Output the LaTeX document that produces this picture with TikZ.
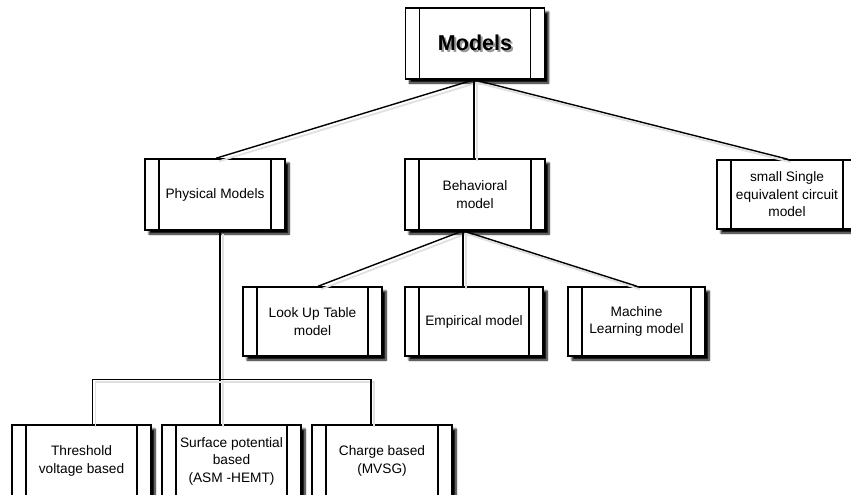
\documentclass[tikz,border=0pt]{standalone}
\usepackage{fontspec}
\setmainfont{Liberation Sans}
\usetikzlibrary{shadows.blur}
\begin{document}
\begin{tikzpicture}[x=1pt,y=-1pt,
  procbox/.style={draw=black, line width=1.5pt, fill=white, inner sep=0pt,
    align=center, font=\fontsize{13.7}{17.5}\selectfont,
    blur shadow={shadow xshift=4pt, shadow yshift=-4pt, shadow blur radius=2pt,
      shadow blur steps=8, shadow opacity=100},
    path picture={
      \draw[line width=1.5pt]
        ([xshift=14pt]path picture bounding box.south west) -- ([xshift=14pt]path picture bounding box.north west)
        ([xshift=-14pt]path picture bounding box.south east) -- ([xshift=-14pt]path picture bounding box.north east);
    }},
  conn/.style={line width=1.4pt, draw=black,
    preaction={draw=black!12, line width=1.8pt, transform canvas={shift={(3pt,-3pt)}}}},
  title/.style={font=\fontsize{21.5}{24}\selectfont\bfseries}
]
\useasboundingbox (0,0) rectangle (851,495);

% top level, title with a soft drop shadow under the lettering
\node[procbox, minimum width=139pt, minimum height=71pt, title] (models) at (475,43.5)
  {\rlap{\kern2pt\raisebox{-2pt}{\color{black!40}Models}}Models};

% second level
\node[procbox, minimum width=140pt, minimum height=71pt] (phys) at (215,194.5) {Physical Models};
\node[procbox, minimum width=140pt, minimum height=71pt] (behav) at (475,194.5) {Behavioral\\model};
\node[procbox, minimum width=140pt, minimum height=69pt] (small) at (787,194.5) {small Single\\equivalent circuit\\model};

% behavioral sub-models
\node[procbox, minimum width=139pt, minimum height=69pt] (lut) at (312.5,321.5) {Look Up Table\\model};
\node[procbox, minimum width=138pt, minimum height=69pt] (emp) at (474,321.5) {Empirical model};
\node[procbox, minimum width=137pt, minimum height=69pt] (ml) at (636.5,321.5) {Machine\\Learning model};

% physical sub-models
\node[procbox, minimum width=139pt, minimum height=72pt] (thr) at (81.5,461) {Threshold\\voltage based};
\node[procbox, minimum width=139pt, minimum height=72pt] (surf) at (231.5,461) {Surface potential\\based\\(ASM -HEMT)};
\node[procbox, minimum width=140pt, minimum height=72pt] (chg) at (382,461) {Charge based\\(MVSG)};

% connectors
\draw[conn] ([xshift=-1pt]models.south) -- ([xshift=1pt]phys.north);
\draw[conn] ([xshift=-1pt]models.south) -- ([xshift=-1pt]behav.north);
\draw[conn] ([xshift=-1pt]models.south) -- ([xshift=1pt]small.north);

\draw[conn] ([xshift=-12pt]behav.south) -- ([xshift=5.5pt]lut.north);
\draw[conn] ([xshift=-12pt]behav.south) -- ([xshift=-11pt]emp.north);
\draw[conn] ([xshift=-12pt]behav.south) -- ([xshift=0.5pt]ml.north);

\draw[conn] ([xshift=5pt]phys.south) -- ([xshift=-11.5pt]surf.north);
\draw[conn] ([xshift=11pt]thr.north) -- ++(0,-45) -| ([xshift=-11pt]chg.north);
\end{tikzpicture}
\end{document}
